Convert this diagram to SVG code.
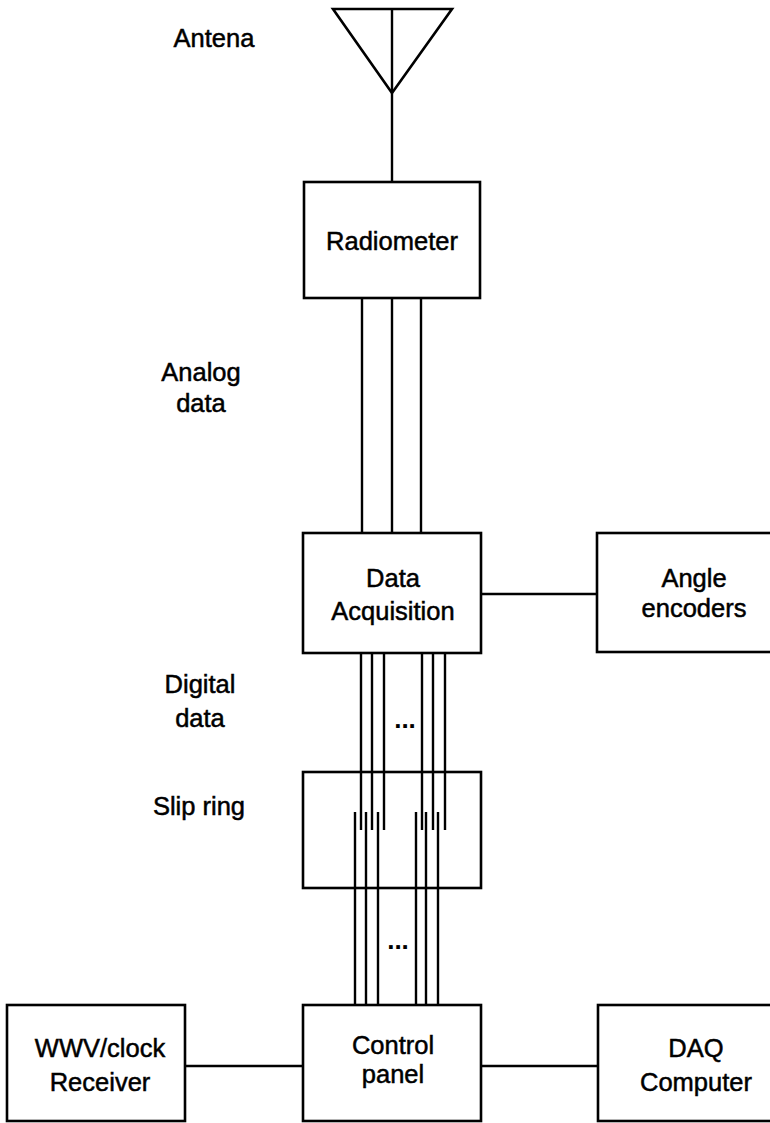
<svg xmlns="http://www.w3.org/2000/svg" width="770" height="1123" viewBox="0 0 770 1123">
<style>
.box{fill:#fff;stroke:#000;stroke-width:2.6}
.open{fill:none;stroke:#000;stroke-width:2.6}
.ln{stroke:#000;stroke-width:2.4;fill:none}
.t{font-family:"Liberation Sans",Arial,sans-serif;font-size:25.5px;fill:#000;stroke:#000;stroke-width:0.5;text-anchor:middle}
.dots{font-family:"Liberation Sans",Arial,sans-serif;font-size:26px;font-weight:bold;fill:#000;text-anchor:middle}
</style>
<rect width="770" height="1123" fill="#fff"/>
<g id="connectors">
<path class="ln" d="M392 9V182"/>
<path class="ln" d="M362 298V533M392 298V533M421 298V533"/>
<path class="ln" d="M481 594H597"/>
<path class="ln" d="M361 653V830M372 653V830M384 653V830M422 653V830M433 653V830M445 653V830"/>
<path class="ln" d="M355 812V1005M366 812V1005M378 812V1005M416 812V1005M426 812V1005M438 812V1005"/>
<path class="ln" d="M185 1066H303M481 1066H598"/>
</g>
<g id="antenna">
<path d="M333 9H452L392 93Z" fill="none" stroke="#000" stroke-width="2.6"/>
<text class="t" x="214" y="47">Antena</text>
</g>
<g id="radiometer">
<rect class="box" x="304" y="182" width="176" height="116"/>
<text class="t" x="392" y="250">Radiometer</text>
</g>
<g id="analog-label"><text class="t" x="201" y="381">Analog</text><text class="t" x="201" y="412">data</text></g>
<g id="data-acquisition">
<rect class="box" x="303" y="533" width="178" height="120"/>
<text class="t" x="393" y="587">Data</text>
<text class="t" x="393" y="620">Acquisition</text>
</g>
<g id="angle-encoders">
<rect class="box" x="597" y="533" width="185" height="119"/>
<text class="t" x="694" y="587">Angle</text>
<text class="t" x="694" y="617">encoders</text>
</g>
<g id="digital-label"><text class="t" x="200" y="693">Digital</text><text class="t" x="200" y="727">data</text></g>
<text class="dots" x="405" y="728">...</text>
<g id="slip-ring">
<rect class="open" x="303" y="772" width="178" height="116"/>
<text class="t" x="199" y="815">Slip ring</text>
</g>
<text class="dots" x="398" y="949">...</text>
<g id="wwv-receiver">
<rect class="box" x="7" y="1005" width="178" height="116"/>
<text class="t" x="100" y="1057">WWV/clock</text>
<text class="t" x="100" y="1091">Receiver</text>
</g>
<g id="control-panel">
<rect class="box" x="303" y="1005" width="178" height="116"/>
<text class="t" x="393" y="1054">Control</text>
<text class="t" x="393" y="1083">panel</text>
</g>
<g id="daq-computer">
<rect class="box" x="598" y="1005" width="185" height="116"/>
<text class="t" x="696" y="1057">DAQ</text>
<text class="t" x="696" y="1091">Computer</text>
</g>
</svg>
